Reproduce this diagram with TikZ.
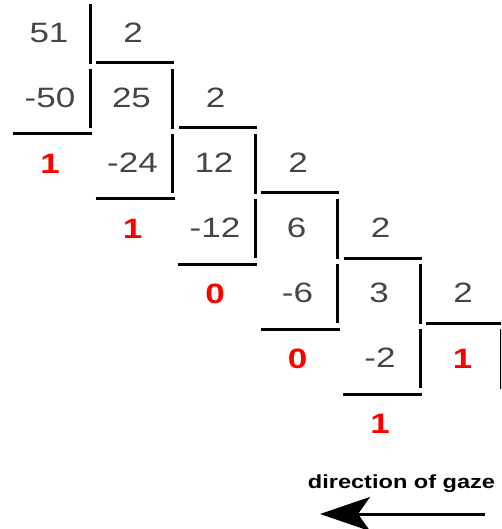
\documentclass[tikz,border=0pt]{standalone}
\usepackage{fontspec}
\setmainfont{Liberation Sans}
\usetikzlibrary{arrows.meta}
\definecolor{numgray}{HTML}{454545}
\newcommand{\wide}[1]{\scalebox{1.25}[1]{#1}}
\begin{document}
\begin{tikzpicture}[x=1pt,y=-1pt,
  num/.style={text=numgray,font=\fontsize{28}{30}\selectfont,inner sep=0pt,anchor=center},
  remnum/.style={text=red,font=\fontsize{28}{30}\selectfont\bfseries,inner sep=0pt,anchor=center},
  rule/.style={line width=3pt,black}]
\useasboundingbox (0,0) rectangle (501,529);
\clip (0,0) rectangle (501,529);
\foreach \k/\a/\b/\r in {0/51/-50/1,1/25/-24/1,2/12/-12/0,3/6/-6/0,4/3/-2/1}{
  \node[num] (d\k) at ({49+82.5*\k},{33+65*\k}) {\wide{\a}};
  \node[num] (v\k) at ({133+82.5*\k},{33+65*\k}) {\wide{2}};
  \node[num] (s\k) at ({50+82.5*\k},{98+65*\k}) {\wide{\b}};
  \node[remnum] (r\k) at ({50+82.5*\k},{164+65*\k}) {\wide{\r}};
  \draw[rule] ({90+82.5*\k},{4+65*\k}) -- ++(0,60);
  \draw[rule] ({90+82.5*\k},{69+65*\k}) -- ++(0,59);
  \draw[rule] ({96+82.5*\k},{63+65*\k}) -- ++(78,0);
  \draw[rule] ({13+82.5*\k},{134+65*\k}) -- ++(79,0);
}
\node[remnum] (q) at (462.5,359) {\wide{1}};
\draw[rule] (501,329) -- (501,389);
\node[font=\fontsize{19}{21}\selectfont\bfseries,anchor=base,inner sep=0pt] (gaze) at (401.5,488) {\scalebox{1.24}[1]{direction of gaze}};
\coordinate (gs) at (485,514);
\coordinate (ge) at (320,514);
\draw[line width=3pt,-{Stealth[length=50pt,width=34pt,inset=12pt]}] (gs) -- (ge);
\end{tikzpicture}
\end{document}
